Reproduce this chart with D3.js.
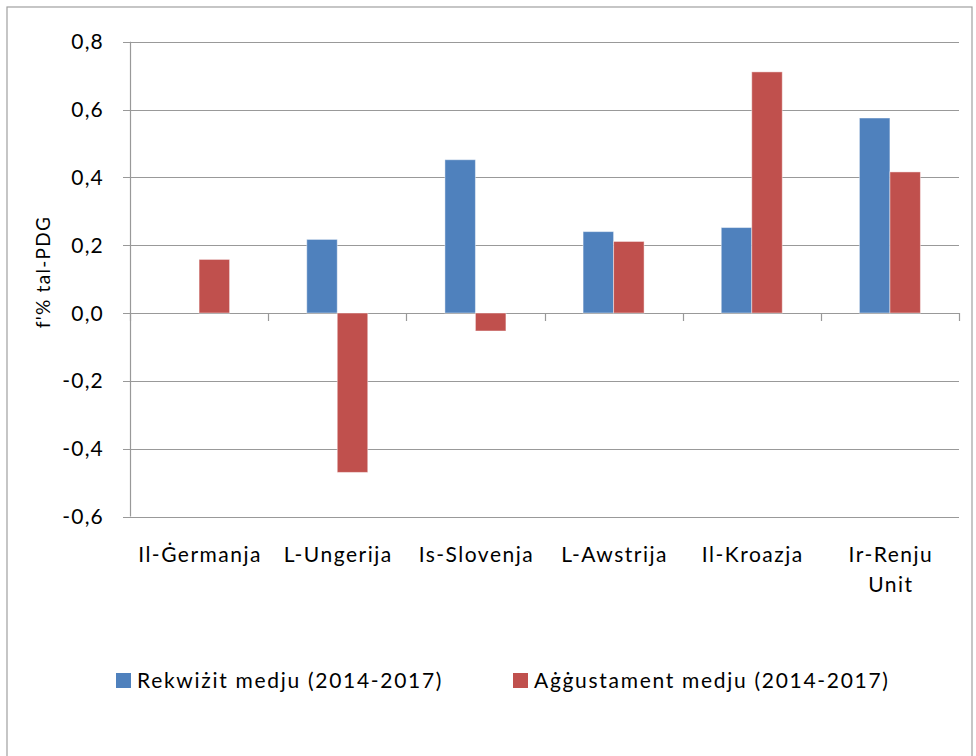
<!DOCTYPE html>
<html>
<head>
<meta charset="utf-8">
<script src="https://cdn.jsdelivr.net/npm/d3@7"></script>
<style>
body { margin: 0; background: #fff; }
text { font-family: Lato, "Open Sans", sans-serif; fill: #000; }
</style>
</head>
<body>
<script>
// categories and series
var categories = ['Il-Ġermanja', 'L-Ungerija', 'Is-Slovenja', 'L-Awstrija', 'Il-Kroazja', 'Ir-Renju Unit'];
var labelLines = [['Il-Ġermanja'], ['L-Ungerija'], ['Is-Slovenja'], ['L-Awstrija'], ['Il-Kroazja'], ['Ir-Renju', 'Unit']];
var seriesNames = ['Rekwiżit medju (2014-2017)', 'Aġġustament medju (2014-2017)'];
var rekwizit = [null, 0.217, 0.452, 0.240, 0.252, 0.575];
var aggustament = [0.158, -0.470, -0.053, 0.211, 0.711, 0.416];
var yTicks = [-0.6, -0.4, -0.2, 0.0, 0.2, 0.4, 0.6, 0.8];
var colors = ['#4F81BD', '#C0504D'];

var width = 976, height = 756;
var svg = d3.select('body').append('svg').attr('width', width).attr('height', height);

// outer frame
svg.append('rect').attr('x', 7).attr('y', 7).attr('width', 965).attr('height', 770)
  .attr('fill', 'none').attr('stroke', '#a0a0a0').attr('stroke-width', 1.2);

var plotLeft = 130, plotRight = 959, plotTop = 41.7, plotBottom = 516.5;

var y = d3.scaleLinear().domain([-0.6, 0.8]).range([plotBottom, plotTop]);
var x = d3.scaleBand().domain(categories).range([plotLeft, plotRight]).paddingInner(0).paddingOuter(0);
var x1 = d3.scaleBand().domain(seriesNames).range([(x.bandwidth() - 61) / 2, (x.bandwidth() + 61) / 2]);

// gridlines
svg.append('g').selectAll('line').data(yTicks).enter().append('line')
  .attr('x1', plotLeft - 7).attr('x2', plotRight)
  .attr('y1', function(d) { return Math.round(y(d)) + 0.5; })
  .attr('y2', function(d) { return Math.round(y(d)) + 0.5; })
  .attr('stroke', '#999').attr('stroke-width', 1.2);

// y labels
svg.append('g').selectAll('text').data(yTicks).enter().append('text')
  .attr('x', 104).attr('y', function(d) { return y(d); })
  .attr('dy', '0.36em').attr('text-anchor', 'end')
  .style('font-size', '21px').style('letter-spacing', '1.2px')
  .text(function(d) { return d3.format('.1f')(d).replace('.', ',').replace('−', '-'); });

// y axis line
svg.append('line').attr('x1', plotLeft + 0.5).attr('x2', plotLeft + 0.5).attr('y1', plotTop).attr('y2', plotBottom)
  .attr('stroke', '#999').attr('stroke-width', 1.2);

// category tick marks on zero line
var bounds = categories.map(function(c) { return x(c); }).concat([plotRight]);
svg.append('g').selectAll('line').data(bounds).enter().append('line')
  .attr('x1', function(d) { return Math.round(d) + 0.5; })
  .attr('x2', function(d) { return Math.round(d) + 0.5; })
  .attr('y1', y(0)).attr('y2', y(0) + 8)
  .attr('stroke', '#999').attr('stroke-width', 1.2);

// bars
var seriesData = [rekwizit, aggustament];
seriesData.forEach(function(vals, si) {
  var pts = vals.map(function(v, i) { return {cat: categories[i], v: v}; })
    .filter(function(p) { return p.v !== null; });
  svg.append('g').selectAll('rect').data(pts).enter().append('rect')
    .attr('x', function(p) { return x(p.cat) + x1(seriesNames[si]); })
    .attr('y', function(p) { return y(Math.max(0, p.v)); })
    .attr('width', x1.bandwidth())
    .attr('height', function(p) { return Math.abs(y(p.v) - y(0)); })
    .attr('fill', colors[si])
    .attr('stroke', 'rgba(255,255,255,0.45)').attr('stroke-width', 1);
});

// category labels
var lab = svg.append('g').selectAll('text').data(categories).enter().append('text')
  .attr('text-anchor', 'middle').style('font-size', '21px').style('letter-spacing', '1.5px')
  .attr('x', function(d) { return x(d) + x.bandwidth() / 2; })
  .attr('y', 562);
lab.each(function(d, i) {
  var t = d3.select(this);
  labelLines[i].forEach(function(line, k) {
    t.append('tspan').attr('x', x(d) + x.bandwidth() / 2 + 1).attr('dy', k === 0 ? 0 : 30).text(line);
  });
});

// y axis title
svg.append('text').attr('transform', 'translate(50,272) rotate(-90)')
  .attr('text-anchor', 'middle').style('font-size', '19px').style('letter-spacing', '1.3px').text("f'% tal-PDG");

// legend
var legendX = [116, 513];
seriesNames.forEach(function(name, i) {
  var g = svg.append('g').attr('transform', 'translate(' + legendX[i] + ',0)');
  g.append('rect').attr('x', 0).attr('y', 673).attr('width', 15).attr('height', 15).attr('fill', colors[i]);
  g.append('text').attr('x', 21).attr('y', 688).style('font-size', '21px').style('letter-spacing', '1.7px').text(name);
});
</script>
</body>
</html>
